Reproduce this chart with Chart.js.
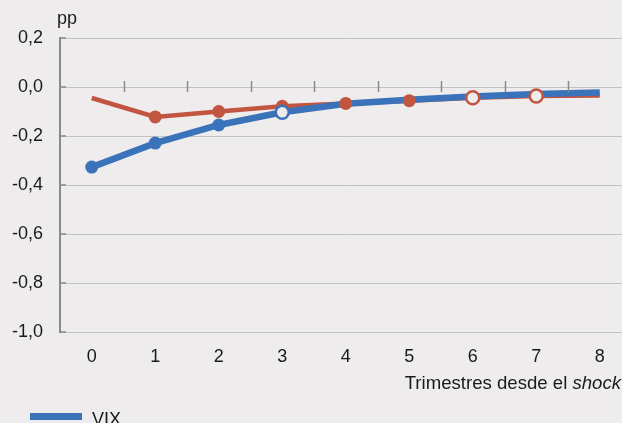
<!DOCTYPE html>
<html>
<head>
<meta charset="utf-8">
<script src="https://cdn.jsdelivr.net/npm/chart.js@4"></script>
<style>
  html, body { margin: 0; padding: 0; background: #eeeced; overflow: hidden; }
  #chart { position: absolute; left: 0; top: 0; }
</style>
</head>
<body>
<canvas id="chart" width="638" height="423"></canvas>
<script>
const quarters = ['0', '1', '2', '3', '4', '5', '6', '7', '8'];
const vixValues = [-0.327, -0.229, -0.155, -0.103, -0.068, -0.052, -0.039, -0.029, -0.022];
const otherValues = [-0.045, -0.122, -0.100, -0.079, -0.067, -0.056, -0.044, -0.037, -0.035];
// marker type per quarter: 'f' filled, 'h' hollow, '' none
const vixMarks = ['f', 'f', 'f', 'h', '', '', '', '', ''];
const otherMarks = ['', 'f', 'f', 'f', 'f', 'f', 'h', 'h', ''];
const yTicks = [0.2, 0, -0.2, -0.4, -0.6, -0.8, -1.0];

const BLUE = '#3a73ba';
const RED = '#c2553f';
const BG = '#eeeced';
const FONT = '"Liberation Sans", Arial, sans-serif';

function markerRadius(marks) {
    return ctx => marks[ctx.dataIndex] ? 6.5 : 0;
}
function markerFill(marks, color) {
    return ctx => marks[ctx.dataIndex] === 'h' ? BG : color;
}
function markerBorder(marks) {
    return ctx => marks[ctx.dataIndex] === 'h' ? 2.5 : 0;
}

const extras = {
    id: 'extras',
    afterDatasetsDraw(chart) {
        const { ctx, chartArea, scales: { x, y } } = chart;
        const y0 = y.getPixelForValue(0);
        ctx.save();
        ctx.strokeStyle = '#8a8a8a';
        ctx.lineWidth = 1.5;
        // ticks on the zero line between quarters
        for (let i = 0; i < quarters.length - 1; i++) {
            const px = Math.round((x.getPixelForValue(i) + x.getPixelForValue(i + 1)) / 2) + 0.5;
            ctx.beginPath();
            ctx.moveTo(px, y0 - 6);
            ctx.lineTo(px, y0 + 5);
            ctx.stroke();
        }
        // small ticks on the y axis
        yTicks.forEach(v => {
            const py = y.getPixelForValue(v);
            ctx.beginPath();
            ctx.moveTo(chartArea.left, py);
            ctx.lineTo(chartArea.left + 6, py);
            ctx.stroke();
        });
        ctx.restore();
    },
    afterDraw(chart) {
        const { ctx } = chart;
        ctx.save();
        ctx.fillStyle = '#1a1a1a';
        ctx.textBaseline = 'middle';
        ctx.font = '18px ' + FONT;
        ctx.textAlign = 'left';
        ctx.fillText('pp', 57, 19);

        // x axis title, "shock" in italics
        const part1 = 'Trimestres desde el ';
        const part2 = 'shock';
        ctx.font = 'italic 18.6px ' + FONT;
        const w2 = ctx.measureText(part2).width;
        ctx.font = '18.6px ' + FONT;
        const w1 = ctx.measureText(part1).width;
        const right = 621;
        ctx.fillText(part1, right - w2 - w1, 384);
        ctx.font = 'italic 18.6px ' + FONT;
        ctx.fillText(part2, right - w2, 384);

        // legend (only the first series fits in the frame)
        const ds = chart.data.datasets[0];
        ctx.fillStyle = ds.borderColor;
        ctx.fillRect(30, 413, 52, 7);
        ctx.fillStyle = '#1a1a1a';
        ctx.font = '18px ' + FONT;
        ctx.fillText(ds.label, 92, 420);
        ctx.restore();
    }
};

new Chart(document.getElementById('chart'), {
    type: 'line',
    data: {
        labels: quarters,
        datasets: [
            {
                label: 'VIX',
                data: vixValues,
                borderColor: BLUE,
                borderWidth: 6.5,
                pointRadius: 0,
                fill: false,
                order: 3
            },
            {
                label: 'other',
                data: otherValues,
                borderColor: RED,
                borderWidth: 4.5,
                pointRadius: 0,
                fill: false,
                order: 4
            },
            {
                label: 'vixMarks',
                data: vixValues,
                showLine: false,
                pointRadius: markerRadius(vixMarks),
                pointBackgroundColor: markerFill(vixMarks, BLUE),
                pointBorderColor: BLUE,
                pointBorderWidth: markerBorder(vixMarks),
                order: 1
            },
            {
                label: 'otherMarks',
                data: otherValues,
                showLine: false,
                pointRadius: markerRadius(otherMarks),
                pointBackgroundColor: markerFill(otherMarks, RED),
                pointBorderColor: RED,
                pointBorderWidth: markerBorder(otherMarks),
                order: 2
            }
        ]
    },
    options: {
        responsive: false,
        animation: false,
        events: [],
        layout: { padding: { top: 38, left: 0, right: 1, bottom: 31 } },
        plugins: {
            legend: { display: false },
            tooltip: { enabled: false }
        },
        scales: {
            x: {
                offset: true,
                grid: { display: false, drawTicks: false },
                border: { display: false },
                ticks: { color: '#1a1a1a', font: { family: FONT, size: 18 }, padding: 14, maxRotation: 0 },
                afterFit(scale) { scale.height = 60; }
            },
            y: {
                min: -1.0,
                max: 0.2,
                grid: {
                    drawTicks: false,
                    color: ctx => ctx.tick && ctx.tick.value === 0 ? '#8a8a8a' : '#c2c2c2',
                    lineWidth: ctx => ctx.tick && ctx.tick.value === 0 ? 2 : 1
                },
                border: { display: true, color: '#8a8a8a', width: 2 },
                ticks: {
                    stepSize: 0.2,
                    color: '#1a1a1a',
                    font: { family: FONT, size: 18 },
                    padding: 17,
                    callback: v => v.toFixed(1).replace('.', ',').replace('-0,0', '0,0')
                },
                afterFit(scale) { scale.width = 60; }
            }
        }
    },
    plugins: [extras]
});
</script>
</body>
</html>
